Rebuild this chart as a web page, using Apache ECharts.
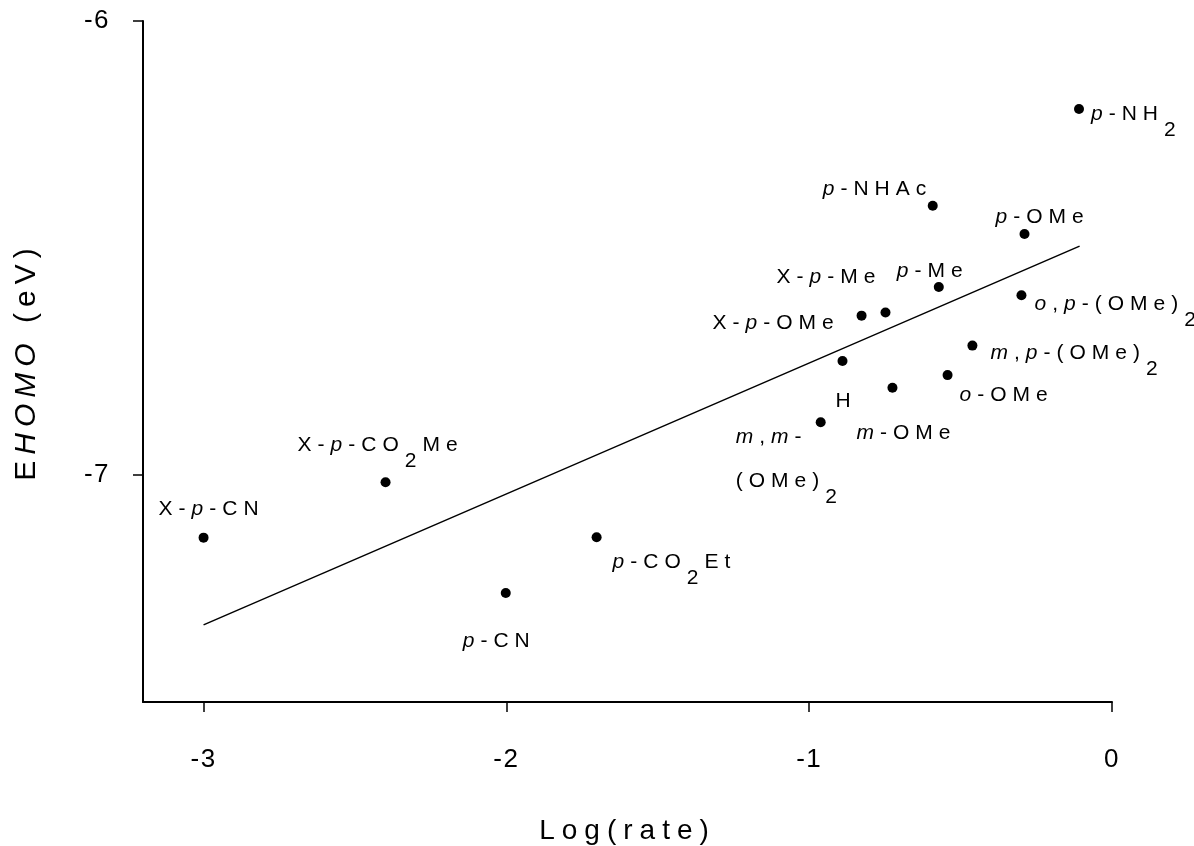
<!DOCTYPE html>
<html>
<head>
<meta charset="utf-8">
<script src="https://cdn.jsdelivr.net/npm/echarts@6/dist/echarts.min.js"></script>
<style>
  html, body { margin: 0; padding: 0; background: #fff; }
  #chart { width: 1194px; height: 846px; }
</style>
</head>
<body>
<div id="chart"></div>
<script>
// ---------------- data ----------------
const compounds = ['p-NH2','p-NHAc','p-OMe','p-Me','X-p-Me','X-p-OMe','o,p-(OMe)2','m,p-(OMe)2','H','o-OMe','m-OMe','m,m-(OMe)2','X-p-CO2Me','X-p-CN','p-CN','p-CO2Et'];
const logRate = [-0.109,-0.592,-0.289,-0.572,-0.748,-0.827,-0.299,-0.461,-0.890,-0.543,-0.725,-0.962,-2.399,-3.000,-2.002,-1.702];
const eHomo   = [-6.194,-6.407,-6.469,-6.586,-6.642,-6.649,-6.604,-6.715,-6.749,-6.780,-6.808,-6.884,-7.016,-7.138,-7.260,-7.137];
// rich-text versions of the names (italic locants, subscript digits)
const richNames = [
  '{i|p}{n|-NH}{s|2}',
  '{i|p}{n|-NHAc}',
  '{i|p}{n|-OMe}',
  '{i|p}{n|-Me}',
  '{n|X-}{i|p}{n|-Me}',
  '{n|X-}{i|p}{n|-OMe}',
  '{i|o}{n|,}{i|p}{n|-(OMe)}{s|2}',
  '{i|m}{n|,}{i|p}{n|-(OMe)}{s|2}',
  '{n|H}',
  '{i|o}{n|-OMe}',
  '{i|m}{n|-OMe}',
  '{i|m}{n|,}{i|m}{n|-}{gap| }\n{n|(OMe)}{s|2}',
  '{n|X-}{i|p}{n|-CO}{s|2}{n|Me}',
  '{n|X-}{i|p}{n|-CN}',
  '{i|p}{n|-CN}',
  '{i|p}{n|-CO}{s|2}{n|Et}'
];
// regression line end points
const fitX = [-3.0, -0.107];
const fitY = [-7.330, -6.496];
// tick labels
const xTicks = [-3, -2, -1, 0];
const yTicks = [-7, -6];

// ---------------- layout (label placement relative to each point) ----------------
const labelOffsets = [[12,2],[-110,-19.5],[-29,-20],[-42,-18.6],[-109,-38],[-149,5],[13,5.5],[18,5],[-7,37],[12,17.5],[-36,42],[-85,12],[-88,-40],[-45,-31],[-43,45],[16,22]];

// letter spacing emulation (reference text is widely tracked)
const SPACING = {21: 6, 26: 1.5, 28: 7, 30: 6};
function spacingFor(font) {
  const m = /(\d+(?:\.\d+)?)px/.exec(font || '');
  if (!m) return 0;
  const v = SPACING[Math.round(+m[1])];
  return v === undefined ? 0 : v;
}
(function () {
  const P = CanvasRenderingContext2D.prototype;
  const of = P.fillText, om = P.measureText;
  P.fillText = function (t, x, y, w) {
    try { this.letterSpacing = spacingFor(this.font) + 'px'; } catch (e) {}
    return w === undefined ? of.call(this, t, x, y) : of.call(this, t, x, y, w);
  };
  P.measureText = function (t) {
    try { this.letterSpacing = spacingFor(this.font) + 'px'; } catch (e) {}
    return om.call(this, t);
  };
})();

const FONT = 'Liberation Sans';
const LFS = 21;
const pts = logRate.map((x, i) => ({
  value: [x, eHomo[i]],
  name: compounds[i],
  label: {
    formatter: richNames[i],
    position: [5 + labelOffsets[i][0], 5 + labelOffsets[i][1] - LFS / 2]
  }
}));

const labelRich = {
  n:   { fontFamily: FONT, fontSize: LFS, color: '#000', lineHeight: LFS, verticalAlign: 'top' },
  i:   { fontFamily: FONT, fontSize: LFS, color: '#000', fontStyle: 'italic', lineHeight: LFS, verticalAlign: 'top' },
  s:   { fontFamily: FONT, fontSize: LFS, color: '#000', lineHeight: LFS + 22, verticalAlign: 'bottom' },
  gap: { fontFamily: FONT, fontSize: LFS, color: '#000', lineHeight: 44, verticalAlign: 'top' }
};

const chart = echarts.init(document.getElementById('chart'), null, { renderer: 'canvas' });
chart.setOption({
  animation: false,
  backgroundColor: '#fff',
  grid: { left: 143, right: 82, top: 21, bottom: 144, containLabel: false, outerBoundsMode: 'none' },
  xAxis: {
    type: 'value', min: -3.2, max: 0,
    name: 'Log(rate)', nameLocation: 'middle', nameGap: 112,
    nameTextStyle: { fontFamily: FONT, fontSize: 28, color: '#000' },
    axisLine: { show: true, onZero: false, lineStyle: { color: '#000', width: 2 } },
    axisTick: { show: true, inside: false, length: 10, customValues: xTicks, lineStyle: { color: '#000', width: 1.5 } },
    axisLabel: { customValues: xTicks, margin: 44, fontFamily: FONT, fontSize: 26, color: '#000' },
    splitLine: { show: false }
  },
  yAxis: {
    type: 'value', min: -7.5, max: -6,
    name: 'E{h|HOMO} (eV)', nameLocation: 'middle', nameGap: 98, nameRotate: 90,
    nameTextStyle: {
      fontFamily: FONT, fontSize: 30, color: '#000',
      rich: { h: { fontFamily: FONT, fontSize: 30, fontStyle: 'italic', color: '#000' } }
    },
    axisLine: { show: true, onZero: false, lineStyle: { color: '#000', width: 2 } },
    axisTick: { show: true, inside: false, length: 10, customValues: yTicks, lineStyle: { color: '#000', width: 1.5 } },
    axisLabel: { customValues: yTicks, margin: 33, fontFamily: FONT, fontSize: 26, color: '#000' },
    splitLine: { show: false }
  },
  series: [
    {
      type: 'line',
      data: fitX.map((x, i) => [x, fitY[i]]),
      symbol: 'none',
      lineStyle: { color: '#000', width: 1.5 },
      silent: true, z: 1
    },
    {
      type: 'scatter',
      data: pts,
      symbol: 'circle', symbolSize: 10,
      itemStyle: { color: '#000', opacity: 1 },
      label: { show: true, color: '#000', rich: labelRich, align: 'left', verticalAlign: 'top' },
      labelLayout: { hideOverlap: false },
      z: 2
    }
  ]
});
</script>
</body>
</html>
